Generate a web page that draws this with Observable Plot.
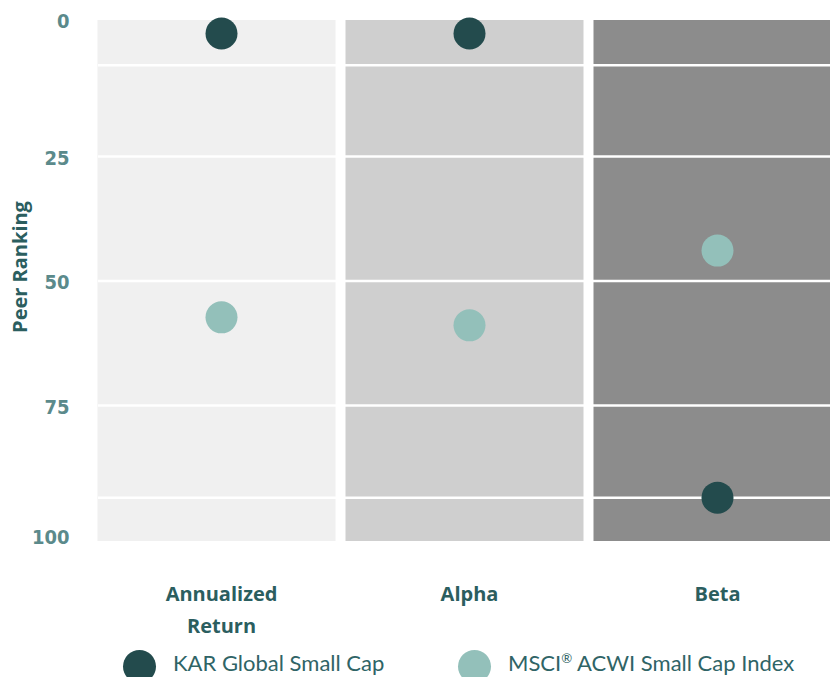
<!DOCTYPE html>
<html>
<head>
<meta charset="utf-8">
<script src="https://cdn.jsdelivr.net/npm/d3@7"></script>
<script src="https://cdn.jsdelivr.net/npm/@observablehq/plot@0.6"></script>
<style>
  html, body { margin: 0; padding: 0; background: #fff; overflow: hidden; width: 830px; height: 677px; }
  #chart svg { display: block; }
  #legend { position: relative; height: 37px; font-family: Lato, sans-serif; color: #2f6466; font-size: 22px; }
  .item { position: absolute; top: 10px; display: flex; align-items: center; white-space: nowrap; }
  .sw { width: 33px; height: 33px; border-radius: 50%; margin-right: 17px; }
  .txt { position: relative; top: -4px; line-height: 24px; }
  sup { font-size: 0.6em; line-height: 0; vertical-align: 0.6em; }
</style>
</head>
<body>
<div id="chart"></div>
<div id="legend"></div>
<script>
const categories = ["Annualized Return", "Alpha", "Beta"];
const panelFills = ["#f0f0f0", "#cfcfcf", "#8c8c8c"];
const karRanks = [0.3, 0.3, 93.5];
const msciRanks = [57.3, 58.9, 43.9];
const seriesNames = ["KAR Global Small Cap", "MSCI® ACWI Small Cap Index"];
const seriesColors = ["#234b4d", "#93c0ba"];
const yTicksMid = [25, 50, 75];
const yTickTop = [0];
const yTickBottom = [100];
const gridValues = [6.7, 25, 50, 75, 93.5];
const yDomain = [-2.3, 102.3];

const panels = categories.map((c, i) => ({category: c, fill: panelFills[i]}));
const points = [
  ...categories.map((c, i) => ({category: c, rank: msciRanks[i], fill: seriesColors[1]})),
  ...categories.map((c, i) => ({category: c, rank: karRanks[i], fill: seriesColors[0]}))
];

const tickFont = "'Liberation Sans Narrow', 'DejaVu Sans Condensed', sans-serif";
const tickStyle = {tickSize: 0, tickPadding: 27, fontSize: 20, fontWeight: "bold", fill: "#5b8a8b", fontFamily: tickFont, label: null};

const chart = Plot.plot({
  width: 830,
  height: 640,
  marginLeft: 96,
  marginRight: -12,
  marginTop: 20,
  marginBottom: 99,
  x: {type: "band", domain: categories, padding: 0},
  y: {domain: yDomain, reverse: true},
  color: {type: "identity"},
  style: {fontFamily: "'Open Sans', sans-serif", background: "white", overflow: "visible"},
  marks: [
    Plot.barY(panels, {x: "category", y1: () => yDomain[0], y2: () => yDomain[1], fill: "fill", insetLeft: 0.5, insetRight: 9.5}),
    Plot.ruleY(gridValues, {stroke: "white", strokeWidth: 2.5, insetLeft: 2}),
    Plot.dot(points, {x: "category", y: "rank", fill: "fill", r: 16}),
    Plot.axisY(yTicksMid, {...tickStyle, dy: 2}),
    Plot.axisY(yTickTop, {...tickStyle, dy: -10.5}),
    Plot.axisY(yTickBottom, {...tickStyle, dy: 8}),
    Plot.axisX({tickSize: 0, tickPadding: 37, fontSize: 20, fontWeight: "bold", fill: "#2b5e5f", label: null, lineHeight: 1.6,
      fontFamily: "'Open Sans', sans-serif", tickFormat: d => d.replace(" ", "\n")}),
    Plot.text(["Peer Ranking"], {text: d => d, frameAnchor: "left", textAnchor: "middle", rotate: -90, dx: -76, dy: -14,
      fontSize: 20, fontWeight: "bold", fill: "#2b5e5f", fontFamily: "'Open Sans', sans-serif"})
  ]
});
document.getElementById("chart").append(chart);

const legend = document.getElementById("legend");
const lefts = [123, 458];
seriesNames.forEach((name, i) => {
  const item = document.createElement("div");
  item.className = "item";
  item.style.left = lefts[i] + "px";
  const sw = document.createElement("span");
  sw.className = "sw";
  sw.style.background = seriesColors[i];
  const label = document.createElement("span");
  label.className = "txt";
  const parts = name.split("®");
  label.append(parts[0]);
  if (parts.length > 1) {
    const sup = document.createElement("sup");
    sup.textContent = "®";
    label.append(sup, parts[1]);
  }
  item.append(sw, label);
  legend.append(item);
});
</script>
</body>
</html>
